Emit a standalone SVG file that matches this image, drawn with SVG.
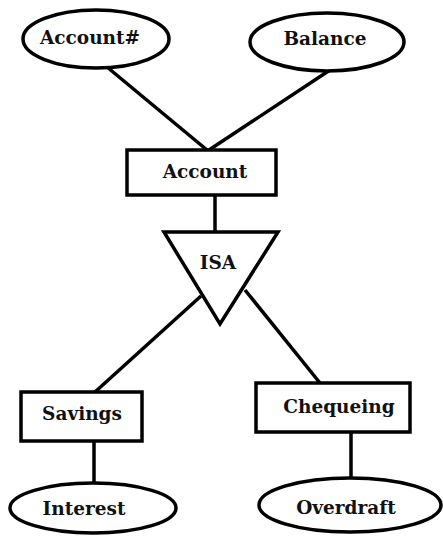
<svg xmlns="http://www.w3.org/2000/svg" width="443" height="537" viewBox="0 0 443 537">
<style>
.s{fill:#fff;stroke:#000;stroke-width:3.5}
.l{stroke:#000;stroke-width:3.5;fill:none}
text{font-family:"DejaVu Serif","Liberation Serif",serif;font-weight:bold;font-size:18.5px;fill:#111;text-anchor:middle}
</style>
<rect width="443" height="537" fill="#fff"/>
<g id="connectors">
<line class="l" x1="107" y1="67" x2="207" y2="150"/>
<line class="l" x1="330" y1="70" x2="209" y2="150"/>
<line class="l" x1="215" y1="195" x2="215" y2="232"/>
<line class="l" x1="201" y1="296" x2="95" y2="392"/>
<line class="l" x1="245" y1="290" x2="320" y2="383"/>
<line class="l" x1="94" y1="441" x2="94" y2="483"/>
<line class="l" x1="351" y1="432" x2="351" y2="478"/>
</g>
<g id="accountnum"><ellipse class="s" cx="96" cy="39" rx="73" ry="29"/><text x="90" y="44">Account#</text></g>
<g id="balance"><ellipse class="s" cx="327" cy="42" rx="77" ry="29"/><text x="325" y="45">Balance</text></g>
<g id="account"><rect class="s" x="127" y="150" width="149" height="45"/><text x="205" y="178">Account</text></g>
<g id="isa"><polygon class="s" points="164,232 278,232 220,324"/><text x="218" y="269">ISA</text></g>
<g id="savings"><rect class="s" x="21" y="392" width="121" height="49"/><text x="82" y="420">Savings</text></g>
<g id="chequeing"><rect class="s" x="256" y="383" width="154" height="49"/><text x="339" y="413">Chequeing</text></g>
<g id="interest"><ellipse class="s" cx="93" cy="508" rx="83" ry="25"/><text x="84" y="515">Interest</text></g>
<g id="overdraft"><ellipse class="s" cx="350" cy="505" rx="91" ry="27"/><text x="346" y="514">Overdraft</text></g>
</svg>
